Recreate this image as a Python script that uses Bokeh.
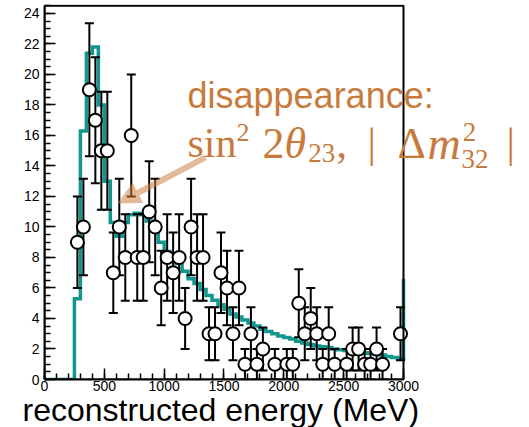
from bokeh.plotting import figure
from bokeh.models import (Range1d, FixedTicker, Label, Arrow, NormalHead,
                          BoxAnnotation, Title)
from bokeh.embed import file_html
from bokeh.resources import INLINE

# --- data -----------------------------------------------------------------
# observed events per 50 MeV bin (bin centres, counts); empty bins omitted
data_energy = [275, 325, 375, 425, 475, 525, 575, 625, 675, 725, 775, 825, 875,
               925, 975, 1025, 1075, 1125, 1175, 1225, 1275, 1325, 1375, 1425,
               1475, 1525, 1575, 1625, 1675, 1725, 1775, 1825, 1925, 2025, 2075,
               2125, 2175, 2225, 2275, 2325, 2375, 2425, 2525, 2575, 2625, 2675,
               2725, 2775, 2825, 2975]
data_counts = [9, 10, 19, 17, 15, 15, 7, 10, 8, 16, 8, 8, 11,
               10, 6, 8, 7, 8, 4, 10, 8, 8, 3, 3,
               7, 6, 3, 6, 1, 3, 1, 2, 1, 1, 1,
               5, 3, 4, 3, 1, 3, 1, 1, 2, 2, 1,
               1, 2, 1, 3]

# best-fit prediction: lower bin edges (MeV) and expected events, last entry = overflow
mc_edges = list(range(0, 3050, 50))
mc_values = [0, 0, 0, 0, 0, 5.3, 16.3, 21.4, 21.8, 18.0, 13.0, 10.3, 9.4, 10.3,
             10.8, 10.9, 10.8, 10.4, 9.8, 9.0, 8.4, 7.9, 7.6, 7.1, 6.6, 6.3, 5.9,
             5.5, 5.2, 4.9, 4.6, 4.3, 4.1, 3.9, 3.7, 3.5, 3.3, 3.15, 3.0, 2.85,
             2.75, 2.65, 2.5, 2.4, 2.3, 2.2, 2.15, 2.1, 2.0, 1.95, 1.9, 1.85, 1.8,
             1.75, 1.7, 1.65, 1.6, 1.5, 1.45, 1.35, 6.6]

x_ticks = [0, 500, 1000, 1500, 2000, 2500, 3000]
y_ticks = list(range(0, 25, 2))
E_MAX = 3000      # histogram range (MeV)
N_MAX = 24.5      # top of the histogram box (events)

# --- styles ---------------------------------------------------------------
TEAL = "#12978f"
ORANGE = "#c87a3c"
ARROW = "#d08246"
SANS = "Liberation Sans"
SERIF = "Liberation Serif"

# the plotting area spans the full width so the annotation can run past the box;
# the axis and the box outline stop at E_MAX
p = figure(width=529, height=427, output_backend="svg", toolbar_location=None,
           x_range=Range1d(0, 4053), y_range=Range1d(0, 24.59),
           min_border_left=44, min_border_right=0, min_border_top=4,
           min_border_bottom=48)
p.xgrid.visible = False
p.ygrid.visible = False
p.outline_line_color = None
p.background_fill_color = "white"
p.border_fill_color = "white"

p.xaxis.ticker = FixedTicker(ticks=x_ticks, minor_ticks=list(range(0, E_MAX + 1, 100)))
p.yaxis.ticker = FixedTicker(ticks=y_ticks, minor_ticks=[i * 0.5 for i in range(50)])
p.xaxis.bounds = (0, E_MAX)
p.yaxis.bounds = (0, N_MAX)
for ax in (p.xaxis, p.yaxis):
    ax.axis_line_width = 2
    ax.major_tick_in = 11
    ax.major_tick_out = 0
    ax.minor_tick_in = 6
    ax.minor_tick_out = 0
    ax.major_tick_line_width = 1.5
    ax.minor_tick_line_width = 1.5
    ax.major_label_text_font = SANS
    ax.major_label_text_color = "black"
p.xaxis.major_label_text_font_size = "14px"
p.yaxis.major_label_text_font_size = "14px"
p.xaxis.major_label_standoff = 1
p.yaxis.major_label_standoff = 5

# x-axis title, left-aligned under the histogram box
p.add_layout(Title(text="reconstructed energy (MeV)", align="left", offset=-22,
                   text_font=SANS, text_font_size="32px", text_font_style="normal",
                   text_color="black", standoff=-7), "below")

# histogram box
p.add_layout(BoxAnnotation(left=0, right=E_MAX, bottom=0, top=N_MAX,
                           fill_alpha=0, line_color="black", line_alpha=1,
                           line_width=2))

# prediction histogram as a step line (overflow drawn as the rise at E_MAX)
p.step(mc_edges, mc_values, mode="after", line_color=TEAL, line_width=3.5,
       line_join="miter")

# data with Poisson error bars
err = [c ** 0.5 for c in data_counts]
lo = [c - e for c, e in zip(data_counts, err)]
hi = [c + e for c, e in zip(data_counts, err)]
p.segment(x0=data_energy, y0=lo, x1=data_energy, y1=hi, line_color="black",
          line_width=2)
p.scatter(data_energy, lo, marker="dash", size=9, line_color="black", line_width=2)
p.scatter(data_energy, hi, marker="dash", size=9, line_color="black", line_width=2)
p.scatter(data_energy, data_counts, marker="circle", size=13, fill_color="white",
          line_color="black", line_width=2)

# annotation arrow and text
p.add_layout(Arrow(x_start=1345, y_start=14.56, x_end=610, y_end=11.54,
                   line_color=ARROW, line_alpha=0.55, line_width=6,
                   end=NormalHead(size=23, fill_color=ARROW, fill_alpha=0.55,
                                  line_alpha=0)))


def note(x, y, text, size, font=SERIF, style="normal"):
    p.add_layout(Label(x=x, y=y, text=text, text_align="left",
                       text_baseline="alphabetic", text_font=font,
                       text_font_size=size, text_font_style=style,
                       text_color=ORANGE))


BASE, SUP, SUB1, SUB2 = 15.48, 16.20, 14.82, 14.49
note(1195, 18.62, "disappearance:", "36px", font=SANS)
note(1195, BASE, "sin", "42px")
note(1604, SUP, "2", "26px")
note(1822, BASE, "2", "44px")
note(2005, BASE, "θ", "44px", style="italic")
note(2205, SUB1, "23", "27px")
note(2440, BASE, ",", "42px")
note(2700, BASE, "|", "42px")
note(2950, BASE, "Δ", "44px")
note(3200, BASE, "m", "46px", style="italic")
note(3495, SUP, "2", "27px")
note(3485, SUB2, "32", "27px")
note(3861, BASE, "|", "42px")

open("out.html", "w").write(file_html(p, INLINE))
